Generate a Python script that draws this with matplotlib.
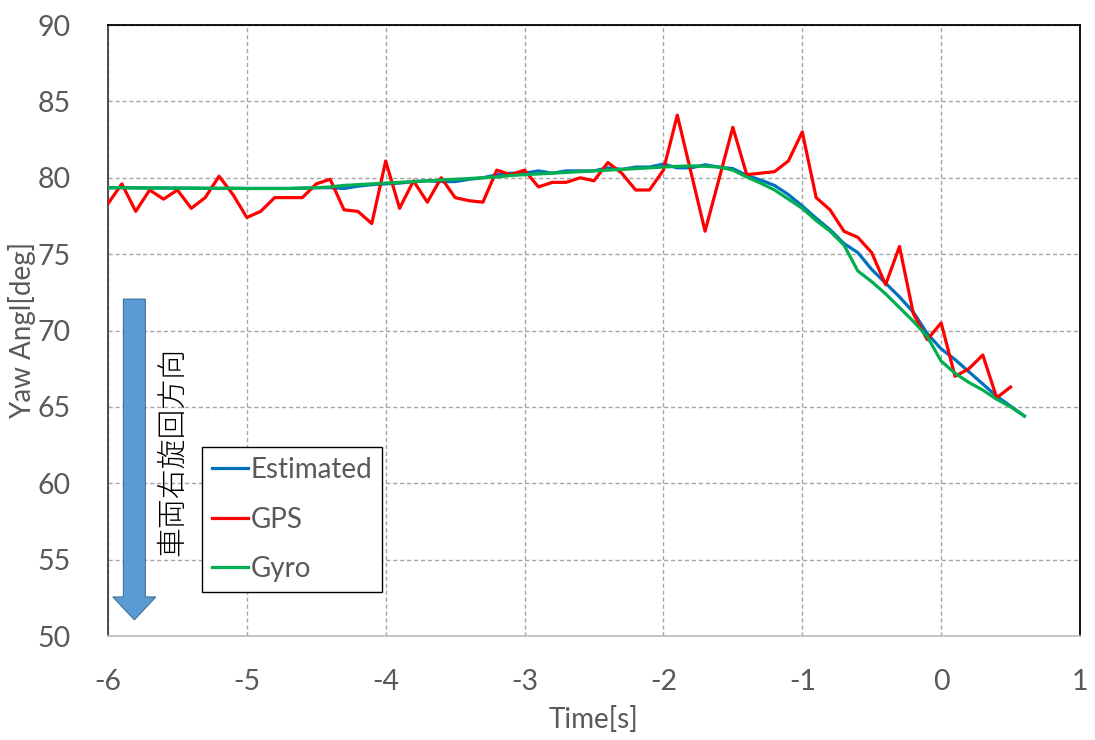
import matplotlib
matplotlib.use("Agg")
import matplotlib.pyplot as plt
from matplotlib.patches import FancyArrow
import numpy as np

# time axis: 0.1 s steps
t_gps = np.round(np.arange(-6.0, 0.51, 0.1), 1)
t_est = np.round(np.arange(-6.0, 0.61, 0.1), 1)

gps = [78.3, 79.6, 77.8, 79.2, 78.6, 79.2, 78.0, 78.7, 80.1, 78.9,
       77.4, 77.8, 78.7, 78.7, 78.7, 79.6, 79.9, 77.9, 77.8, 77.0,
       81.1, 78.0, 79.8, 78.4, 80.0, 78.7, 78.5, 78.4, 80.5, 80.2,
       80.5, 79.4, 79.7, 79.7, 80.0, 79.8, 81.0, 80.3, 79.2, 79.2,
       80.5, 84.1, 80.3, 76.5, 79.9, 83.3, 80.2, 80.3, 80.4, 81.1,
       83.0, 78.7, 77.9, 76.5, 76.1, 75.1, 73.0, 75.5, 71.1, 69.4,
       70.5, 67.0, 67.5, 68.4, 65.6, 66.3]

estimated = [79.35, 79.35, 79.34, 79.33, 79.33, 79.32, 79.32, 79.31, 79.31, 79.31,
             79.30, 79.30, 79.30, 79.30, 79.32, 79.35, 79.35, 79.30, 79.45, 79.55,
             79.60, 79.65, 79.75, 79.80, 79.75, 79.75, 79.90, 80.00, 80.20, 80.30,
             80.30, 80.45, 80.30, 80.45, 80.45, 80.45, 80.65, 80.55, 80.70, 80.70,
             80.90, 80.65, 80.65, 80.85, 80.70, 80.60, 80.15, 79.85, 79.50, 78.90,
             78.15, 77.35, 76.60, 75.70, 75.10, 74.00, 73.10, 72.20, 71.20, 69.80,
             68.80, 68.10, 67.30, 66.50, 65.70, 65.05, 64.40]

gyro = [79.35, 79.35, 79.34, 79.33, 79.33, 79.32, 79.32, 79.31, 79.31, 79.31,
        79.30, 79.30, 79.30, 79.30, 79.32, 79.35, 79.40, 79.50, 79.55, 79.60,
        79.65, 79.70, 79.75, 79.80, 79.85, 79.90, 79.95, 80.00, 80.05, 80.15,
        80.20, 80.25, 80.30, 80.35, 80.40, 80.45, 80.50, 80.55, 80.60, 80.65,
        80.70, 80.75, 80.78, 80.75, 80.70, 80.50, 80.05, 79.65, 79.20, 78.60,
        78.00, 77.20, 76.50, 75.60, 73.90, 73.20, 72.40, 71.50, 70.60, 69.60,
        68.00, 67.20, 66.60, 66.10, 65.50, 65.00, 64.40]

xticks = [-6, -5, -4, -3, -2, -1, 0, 1]
yticks = [50, 55, 60, 65, 70, 75, 80, 85, 90]

plt.rcParams['font.family'] = ['Lato', 'Noto Sans CJK JP', 'DejaVu Sans']
plt.rcParams['axes.unicode_minus'] = False
grey = '#595959'

fig = plt.figure(figsize=(10.95, 7.4), dpi=100)
ax = fig.add_axes([0.0986, 0.1405, 0.8877, 0.8257])

ax.plot(t_est, estimated, color='#0070C0', lw=2.3, label='Estimated', zorder=3)
ax.plot(t_gps, gps, color='#FF0000', lw=2.3, label='GPS', zorder=4)
ax.plot(t_est, gyro, color='#00B050', lw=2.3, label='Gyro', zorder=5)

ax.set_xlim(-6, 1)
ax.set_ylim(50, 90)
ax.set_xticks(xticks)
ax.set_yticks(yticks)
ax.grid(True, color='#a6a6a6', ls=(0, (3, 2)), lw=1.0)
ax.tick_params(length=0, labelsize=20.5, colors=grey)
ax.tick_params(axis='y', pad=27)
ax.tick_params(axis='x', pad=24)

ax.spines['left'].set_color('#404040')
ax.spines['bottom'].set_color('#bfbfbf')
ax.spines['top'].set_color('black')
ax.spines['right'].set_color('black')
for s in ax.spines.values():
    s.set_linewidth(1.3)

ax.set_xlabel('Time[s]', fontsize=20, color=grey, labelpad=8)
ax.set_ylabel('Yaw Angl[deg]', fontsize=20, color=grey, labelpad=1)

# turning direction arrow
arrow = FancyArrow(-5.81, 72.06, 0, -21.0, width=0.158, head_width=0.31,
                   head_length=1.5, length_includes_head=True,
                   facecolor='#5B9BD5', edgecolor='#41719C', lw=0.8, zorder=6)
ax.add_patch(arrow)
ax.text(-5.53, 62.1, '車両右旋回方向', rotation=90, fontsize=21.5,
        ha='center', va='center', color='black', fontweight='light',
        family=['Noto Sans CJK JP', 'DejaVu Sans'], zorder=6)

leg = ax.legend(loc='upper left', bbox_to_anchor=(0.0967, 0.309),
                borderaxespad=0, fontsize=20, frameon=True, fancybox=False,
                handlelength=1.3, handletextpad=0.1, labelspacing=0.85,
                borderpad=0.35, framealpha=1)
leg.get_frame().set_edgecolor('black')
leg.get_frame().set_linewidth(1.0)
leg.set_zorder(7)
for txt in leg.get_texts():
    txt.set_color(grey)

fig.savefig('out.png', dpi=100)
